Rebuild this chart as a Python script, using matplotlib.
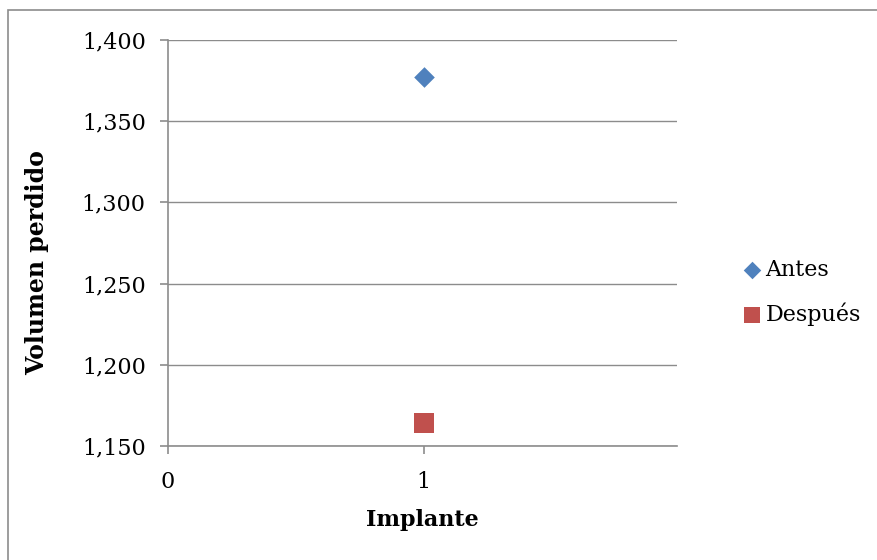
import matplotlib
matplotlib.use("Agg")
import matplotlib.pyplot as plt
from matplotlib.patches import Rectangle
from matplotlib.ticker import FuncFormatter

# Volume lost per implant, before and after
implante = [1]
antes = [1.377]
despues = [1.164]
series_labels = ["Antes", "Después"]

x_ticks = [0, 1]
y_ticks = [1.150, 1.200, 1.250, 1.300, 1.350, 1.400]

BLUE = "#4F81BD"
RED = "#C0504D"
GRID = "#8C8C8C"

plt.rcParams["font.family"] = ["DejaVu Serif"]

fig = plt.figure(figsize=(8.77, 5.6), dpi=100)
ax = fig.add_axes([168 / 877, 1 - 446 / 560, 509 / 877, 406 / 560])

# outer chart frame
fig.patches.append(Rectangle((8 / 877, -0.05), 1.2, 1 - 10 / 560 + 0.05,
                             transform=fig.transFigure, fill=False,
                             edgecolor="#8C8C8C", linewidth=1.2))

ax.scatter(implante, antes, marker="D", s=10.5 ** 2, color=BLUE,
           label=series_labels[0], zorder=3, linewidths=0)
ax.scatter(implante, despues, marker="s", s=14 ** 2, color=RED,
           label=series_labels[1], zorder=3, linewidths=0)

ax.set_xlim(0, 1.99)
ax.set_ylim(1.150, 1.400)
ax.set_xticks(x_ticks)
ax.set_yticks(y_ticks)
ax.yaxis.set_major_formatter(FuncFormatter(lambda v, p: f"{v:.3f}".replace(".", ",")))

ax.grid(axis="y", color=GRID, linewidth=1.0)
ax.set_axisbelow(True)
for side in ["top", "right"]:
    ax.spines[side].set_visible(False)
for side in ["left", "bottom"]:
    ax.spines[side].set_color(GRID)
    ax.spines[side].set_linewidth(1.2)

ax.tick_params(axis="y", length=6, width=1.2, color=GRID, pad=10, labelsize=16)
ax.tick_params(axis="x", length=6, width=1.2, color=GRID, pad=12, labelsize=16)

ax.set_ylabel("Volumen perdido", fontsize=17, fontweight="bold")
ax.set_xlabel("Implante", fontsize=16, fontweight="bold")
ax.yaxis.set_label_coords(-0.257, 0.453)
ax.xaxis.set_label_coords(0.5, -0.182)
ax.xaxis.label.set_va("center")
ax.yaxis.label.set_va("center")

fig.legend(loc="upper left", bbox_to_anchor=(731 / 877, 1 - 248 / 560),
           frameon=False, fontsize=16, handlelength=0.9, handletextpad=0.15,
           labelspacing=0.95, markerscale=0.85, borderpad=0)

fig.savefig("out.png", dpi=100, facecolor="white")
